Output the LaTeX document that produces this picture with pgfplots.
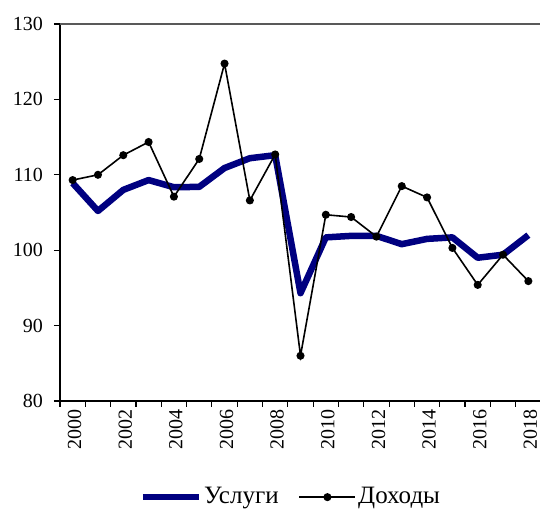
\documentclass[border=0pt]{standalone}
\usepackage{pgfplots}
\pgfplotsset{compat=1.18}
\usepackage{fontspec}
\setmainfont{Liberation Serif}
\definecolor{uslnavy}{HTML}{000080}
\begin{document}
\fontsize{20}{22}\selectfont
\begin{tikzpicture}
\begin{axis}[
  scale only axis,
  width=481pt, height=377pt,
  xmin=-0.5, xmax=18.5,
  ymin=80, ymax=130,
  axis lines=left,
  axis line style={line width=1.2pt, -},
  ytick={80,90,...,130},
  xtick={-0.5,0.5,...,18.5},
  xticklabels={},
  extra x ticks={0,2,...,18},
  extra x tick labels={2000,2002,2004,2006,2008,2010,2012,2014,2016,2018},
  extra x tick style={tick style={draw=none}},
  xticklabel style={rotate=90, anchor=east, inner sep=2pt, xshift=0pt, yshift=-2pt},
  tick align=outside,
  major tick length=6pt,
  tick style={line width=1.2pt, black},
  /pgf/number format/assume math mode=true,
  yticklabel style={inner sep=3pt, xshift=-8pt},
  clip=false,
  legend columns=2,
  legend style={draw=none, fill=none, at={(0.48,-0.255)}, anchor=center,
    font=\fontsize{25}{27}\selectfont,
    /tikz/every even column/.append style={column sep=18pt}, inner sep=0pt},
  legend cell align=left,
  legend image code/.code={\draw[mark repeat=2,mark phase=2,#1] plot coordinates {(0pt,0pt) (28pt,0pt) (56pt,0pt)};},
]
\draw[gray!70!black, line width=1.2pt] (axis cs:-0.5,130) -- (axis cs:18.5,130);
\addplot[uslnavy, line width=6.5pt, line join=round, no marks] coordinates {
(0,108.9) (1,105.2) (2,108.0) (3,109.3) (4,108.35) (5,108.4) (6,110.9) (7,112.2) (8,112.6)
(9,94.3) (10,101.7) (11,101.9) (12,101.9) (13,100.8) (14,101.5) (15,101.7) (16,99.0) (17,99.4) (18,102.0)};
\addlegendentry{Услуги}
\addplot[black, line width=1.6pt, mark=*, mark size=3.2pt] coordinates {
(0,109.3) (1,110.0) (2,112.6) (3,114.35) (4,107.1) (5,112.1) (6,124.75) (7,106.6) (8,112.7)
(9,86.0) (10,104.7) (11,104.4) (12,101.8) (13,108.5) (14,107.0) (15,100.3) (16,95.4) (17,99.4) (18,95.9)};
\addlegendentry{Доходы}
\end{axis}
\pgfresetboundingbox
\path[use as bounding box] (-60pt,-109pt) rectangle (480pt,401pt);
\end{tikzpicture}
\end{document}
